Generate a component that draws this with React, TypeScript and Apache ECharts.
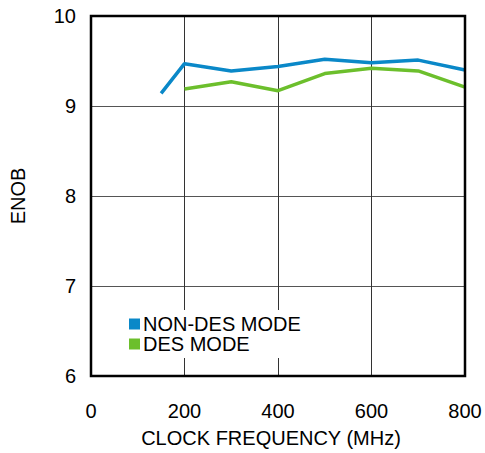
import React, { useEffect, useRef } from "react";
import * as echarts from "echarts";

const nonDesX = [150, 200, 300, 400, 500, 600, 700, 800];
const nonDesY = [9.14, 9.47, 9.39, 9.44, 9.52, 9.48, 9.51, 9.4];
const desX = [200, 300, 400, 500, 600, 700, 800];
const desY = [9.19, 9.27, 9.17, 9.36, 9.42, 9.39, 9.21];
const xTicks = [0, 200, 400, 600, 800];
const yTicks = [6, 7, 8, 9, 10];

const FONT = "Liberation Sans, Arial, sans-serif";
const BLUE = "#0a88c8";
const GREEN = "#6cbf2c";

export default function App() {
  const ref = useRef<HTMLDivElement>(null);
  useEffect(() => {
    if (!ref.current) return;
    const chart = echarts.init(ref.current, null, { renderer: "svg" });
    chart.setOption({
      animation: false,
      backgroundColor: "#fff",
      grid: {
        left: 90,
        top: 16,
        width: 375,
        height: 360,
        show: true,
        borderColor: "#000",
        borderWidth: 2.5,
        backgroundColor: "transparent",
        z: 3,
      },
      legend: {
        orient: "vertical",
        left: 125,
        top: 310,
        itemWidth: 11,
        itemHeight: 11,
        itemGap: 0,
        padding: [4, 4, 4, 4],
        backgroundColor: "#fff",
        icon: "rect",
        textStyle: { fontFamily: FONT, fontSize: 20, lineHeight: 19.5, color: "#000", padding: [0, 0, 0, -2] },
        data: [
          { name: "NON-DES MODE", itemStyle: { color: BLUE } },
          { name: "DES MODE", itemStyle: { color: GREEN } },
        ],
      },
      xAxis: {
        type: "value",
        min: xTicks[0],
        max: xTicks[xTicks.length - 1],
        interval: 200,
        name: "CLOCK FREQUENCY (MHz)",
        nameLocation: "middle",
        nameGap: 52,
        nameTextStyle: { fontFamily: FONT, fontSize: 20, color: "#000", padding: [0, 14, 0, 0] },
        axisLine: { show: false },
        axisTick: { show: false },
        axisLabel: { fontFamily: FONT, fontSize: 20, color: "#000", margin: 25 },
        splitLine: { show: true, lineStyle: { color: "#333", width: 1 } },
      },
      yAxis: {
        type: "value",
        min: yTicks[0],
        max: yTicks[yTicks.length - 1],
        interval: 1,
        name: "ENOB",
        nameLocation: "middle",
        nameGap: 63,
        nameTextStyle: { fontFamily: FONT, fontSize: 20, color: "#000" },
        axisLine: { show: false },
        axisTick: { show: false },
        axisLabel: { fontFamily: FONT, fontSize: 20, color: "#000", margin: 15 },
        splitLine: { show: true, lineStyle: { color: "#555", width: 1.2 } },
      },
      series: [
        {
          name: "NON-DES MODE",
          type: "line",
          data: nonDesX.map((x, i) => [x, nonDesY[i]]),
          showSymbol: false,
          lineStyle: { color: BLUE, width: 3.5 },
          itemStyle: { color: BLUE },
          z: 2,
        },
        {
          name: "DES MODE",
          type: "line",
          data: desX.map((x, i) => [x, desY[i]]),
          showSymbol: false,
          lineStyle: { color: GREEN, width: 3.5 },
          itemStyle: { color: GREEN },
          z: 2,
        },
      ],
    });
    return () => chart.dispose();
  }, []);
  return <div ref={ref} style={{ width: 485, height: 453, position: "absolute", left: 0, top: 0 }} />;
}
